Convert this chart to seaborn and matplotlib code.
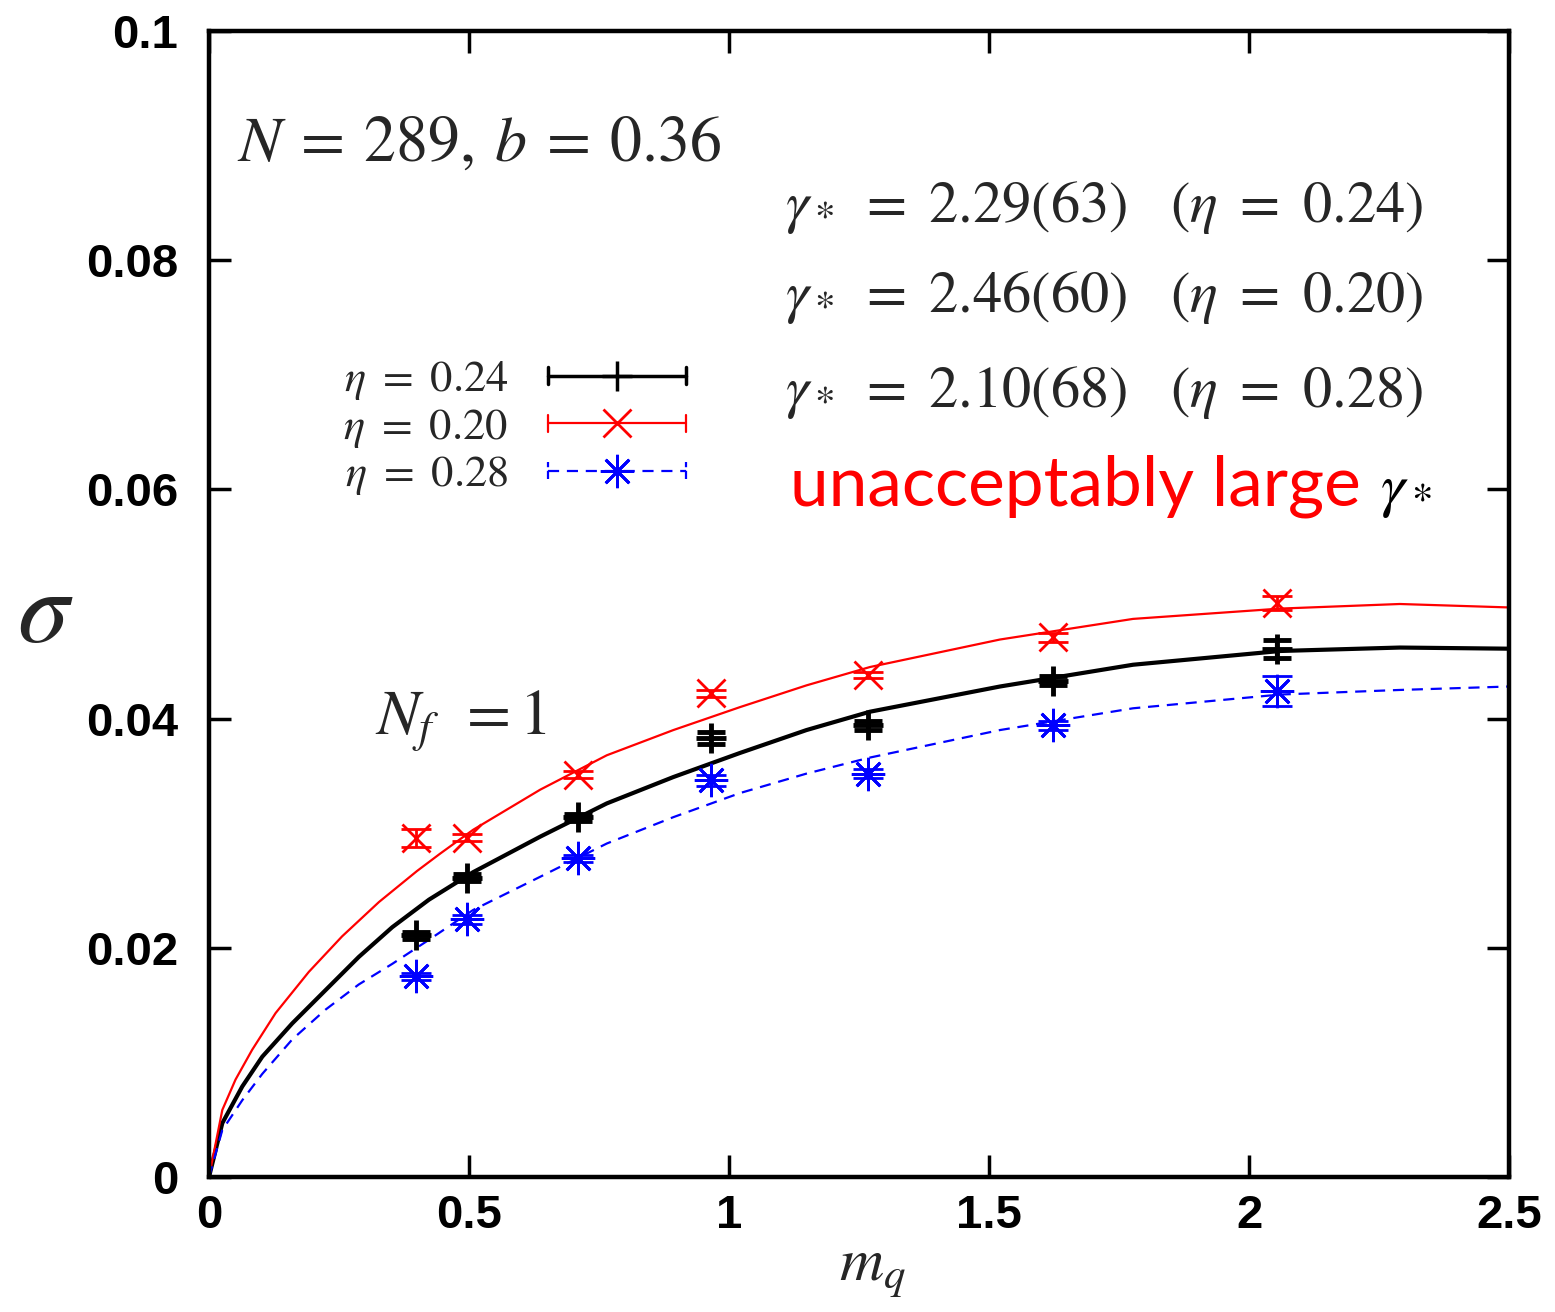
import numpy as np
import pandas as pd
import matplotlib
matplotlib.use("Agg")
import matplotlib.pyplot as plt
import seaborn as sns
from matplotlib.lines import Line2D
from matplotlib.legend_handler import HandlerLine2D
from matplotlib.ticker import FuncFormatter

# measured points (m_q, sigma, error)
mq = [0.398, 0.496, 0.710, 0.965, 1.267, 1.623, 2.054]
sig_024 = [0.0211, 0.0261, 0.0314, 0.0383, 0.0394, 0.0433, 0.0461]
err_024 = [0.0003, 0.0003, 0.0003, 0.0005, 0.0004, 0.0004, 0.0008]
sig_020 = [0.0296, 0.0296, 0.0351, 0.0422, 0.0438, 0.0471, 0.0501]
err_020 = [0.0008, 0.0003, 0.0003, 0.0003, 0.0003, 0.0004, 0.0006]
sig_028 = [0.0175, 0.0225, 0.0278, 0.0346, 0.0352, 0.0394, 0.0424]
err_028 = [0.0003, 0.0004, 0.0003, 0.0005, 0.0004, 0.0004, 0.0013]

# fit curves
fit_x_024 = [0, 0.0256, 0.064, 0.1025, 0.160, 0.224, 0.288, 0.3525, 0.423, 0.508, 0.637,
             0.765, 0.893, 1.021, 1.149, 1.271, 1.521, 1.777, 2.06, 2.29, 2.5]
fit_y_024 = [0, 0.0047, 0.0079, 0.0105, 0.0134, 0.0163, 0.0192, 0.0218, 0.0242, 0.0266, 0.0297,
             0.0326, 0.0349, 0.0370, 0.0390, 0.0406, 0.0428, 0.0447, 0.0459, 0.0462, 0.0461]
fit_x_020 = [0, 0.0256, 0.051, 0.083, 0.128, 0.192, 0.256, 0.327, 0.40, 0.444, 0.508, 0.637,
             0.765, 0.893, 1.021, 1.149, 1.271, 1.521, 1.777, 2.06, 2.29, 2.5]
fit_y_020 = [0, 0.00585, 0.0085, 0.0111, 0.0143, 0.0179, 0.0210, 0.0240, 0.0267, 0.0282, 0.0303,
             0.0338, 0.0368, 0.0390, 0.0410, 0.0429, 0.0445, 0.0469, 0.0487, 0.0496, 0.0500, 0.0497]
fit_x_028 = [0, 0.0256, 0.064, 0.1025, 0.160, 0.224, 0.288, 0.3525, 0.423, 0.508, 0.637,
             0.765, 0.893, 1.021, 1.149, 1.271, 1.521, 1.777, 2.06, 2.29, 2.5]
fit_y_028 = [0, 0.0041, 0.0067, 0.0090, 0.0120, 0.0146, 0.0168, 0.0186, 0.0207, 0.0233, 0.0262,
             0.0291, 0.0314, 0.0335, 0.0352, 0.0366, 0.0390, 0.0409, 0.0421, 0.0425, 0.0428]

sns.set_theme(style="ticks")
plt.rcParams["font.family"] = ["Liberation Sans", "DejaVu Sans"]
plt.rcParams["mathtext.fontset"] = "stix"

fig = plt.figure(figsize=(15.55, 13.12), dpi=100)
ax = fig.add_axes([209 / 1555, 1 - 1177 / 1312, 1300 / 1555, 1146 / 1312])

# fit curves
sns.lineplot(x=fit_x_024, y=fit_y_024, ax=ax, color="black", lw=3, sort=False, estimator=None)
sns.lineplot(x=fit_x_020, y=fit_y_020, ax=ax, color="red", lw=1.6, sort=False, estimator=None)
sns.lineplot(x=fit_x_028, y=fit_y_028, ax=ax, color="blue", lw=1.6, sort=False, estimator=None)
ax.lines[-1].set_dashes([5, 3.5])

# data points
ax.errorbar(mq, sig_024, yerr=err_024, fmt="+", color="black", ms=22, mew=3.5,
            elinewidth=3, capsize=10, capthick=3.5)
ax.errorbar(mq, sig_020, yerr=err_020, fmt="x", color="red", ms=20, mew=2,
            elinewidth=2, capsize=11, capthick=2)
ax.errorbar(mq, sig_028, yerr=err_028, fmt="none", ecolor="blue",
            elinewidth=2, capsize=11, capthick=2)
ax.plot(mq, sig_028, ls="none", marker=(8, 2, 0), color="blue", ms=24, mew=2)

ax.set_xlim(0, 2.5)
ax.set_ylim(0, 0.1)
ax.set_xticks([0, 0.5, 1, 1.5, 2, 2.5])
ax.set_yticks([0, 0.02, 0.04, 0.06, 0.08, 0.1])
fmt = FuncFormatter(lambda v, p: "%g" % v)
ax.xaxis.set_major_formatter(fmt)
ax.yaxis.set_major_formatter(fmt)
ax.tick_params(direction="in", length=16, width=2.5, top=True, right=True,
               labelsize=34, colors="black")
ax.tick_params(axis="y", pad=22)
ax.tick_params(axis="x", pad=12)
for lab in ax.get_xticklabels() + ax.get_yticklabels():
    lab.set_fontweight("bold")
for s in ax.spines.values():
    s.set_linewidth(3.2)
    s.set_color("black")
ax.set_xlabel("")
ax.set_ylabel("")

# axis titles
ax.text(-0.126, 0.49, r"$\sigma$", transform=ax.transAxes, fontsize=74,
        ha="center", va="center")
ax.text(0.51, -0.09, r"$m_q$", transform=ax.transAxes, fontsize=44,
        ha="center", va="baseline")

# annotations
ax.text(0.054, 0.0887, r"$N\:=\:289,\:b\:=\:0.36$", fontsize=46, ha="left", va="baseline")
ax.text(1.108, 0.0833, r"$\gamma_*\ =\ 2.29(63)\quad(\eta\ =\ 0.24)$", fontsize=42,
        ha="left", va="baseline")
ax.text(1.108, 0.0755, r"$\gamma_*\ =\ 2.46(60)\quad(\eta\ =\ 0.20)$", fontsize=42,
        ha="left", va="baseline")
ax.text(1.108, 0.0672, r"$\gamma_*\ =\ 2.10(68)\quad(\eta\ =\ 0.28)$", fontsize=42,
        ha="left", va="baseline")
ax.text(1.117, 0.0586, "unacceptably large", fontsize=50, color="red",
        family=["Lato", "DejaVu Sans"], ha="left", va="baseline")
ax.text(2.252, 0.0586, r"$\gamma_*$", fontsize=44, color="black", ha="left", va="baseline")
ax.text(0.319, 0.0386, r"$N_f\ \,= 1$", fontsize=46, ha="left", va="baseline")


# legend sample: line with end caps, marker in the middle (gnuplot style)
class CapHandler(HandlerLine2D):
    def create_artists(self, legend, orig_handle, xdescent, ydescent, width,
                       height, fontsize, trans):
        arts = super().create_artists(legend, orig_handle, xdescent, ydescent,
                                      width, height, fontsize, trans)
        yc = (height - ydescent) / 2
        for xc in (-xdescent, width - xdescent):
            cap = Line2D([xc, xc], [yc - 0.28 * height, yc + 0.28 * height],
                         color=orig_handle.get_color(),
                         lw=orig_handle.get_linewidth(),
                         ls=orig_handle.get_linestyle())
            cap.set_transform(trans)
            arts.append(cap)
        return arts


h1 = Line2D([], [], color="black", lw=2.5, marker="+", ms=22, mew=2.5)
h2 = Line2D([], [], color="red", lw=1.6, marker="x", ms=20, mew=2)
h3 = Line2D([], [], color="blue", lw=1.6, ls=(0, (5, 3.5)), marker=(8, 2, 0), ms=24, mew=2)
leg = ax.legend([h1, h2, h3],
                [r"$\eta\ =\ 0.24$", r"$\eta\ =\ 0.20$", r"$\eta\ =\ 0.28$"],
                handler_map={Line2D: CapHandler(numpoints=1)},
                loc="upper left", bbox_to_anchor=(0.0896, 0.729), frameon=False,
                fontsize=32, markerfirst=False, handlelength=3.1,
                handletextpad=0.9, labelspacing=0.1, borderaxespad=0)

fig.savefig("out.png", dpi=100)
